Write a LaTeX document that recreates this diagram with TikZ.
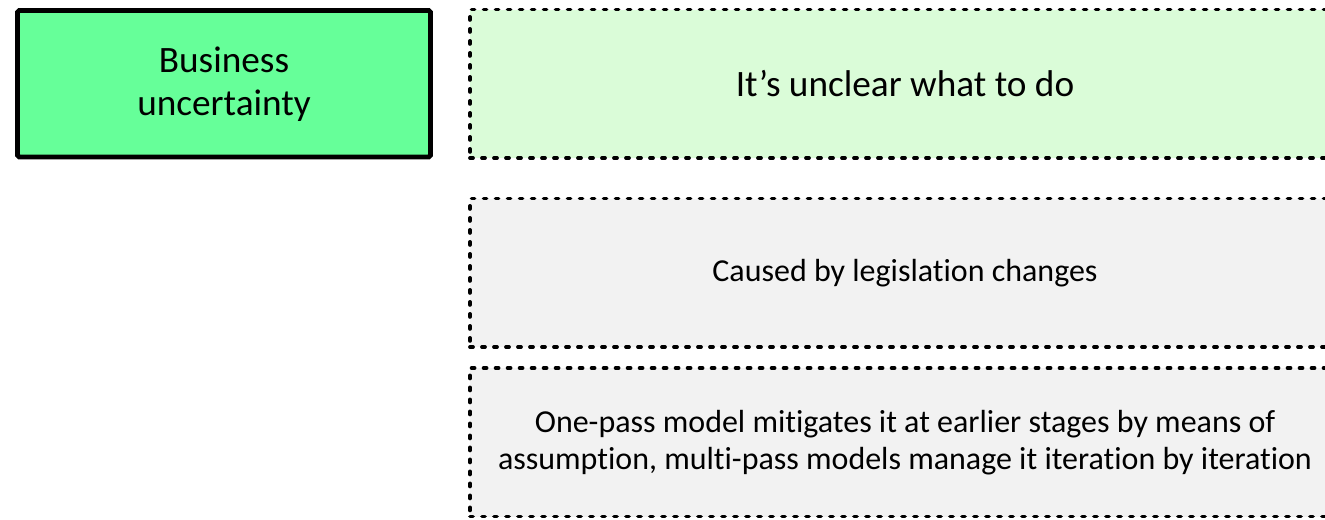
\documentclass[tikz,border=0pt]{standalone}
\usepackage{fontspec}
\setmainfont[Ligatures=NoCommon]{Carlito}
\usepackage{tikz}

\definecolor{bizgreen}{RGB}{102,255,153}
\definecolor{palegreen}{RGB}{218,252,216}
\definecolor{palegray}{RGB}{242,242,242}

\tikzset{
    topic/.style={draw=black,line width=2.8pt,fill=bizgreen,rounded corners=1pt,
        minimum width=8.26cm,minimum height=2.93cm,align=center,font=\fontsize{21.2}{24.4}\selectfont},
    facet/.style={draw=black,line width=0.075cm,line cap=round,dash pattern=on 0.06cm off 0.18cm,
        minimum width=17.4cm,minimum height=2.97cm,align=center,font=\fontsize{18.2}{21}\selectfont}
}

\begin{document}
\begin{tikzpicture}
        \useasboundingbox (0,0) rectangle (26.5,-10.38); % page frame

        \node[topic] (biz) at (4.48,-1.675) {Business\\uncertainty}; % main box

        \node[facet,fill=palegreen,font=\fontsize{21.2}{24.4}\selectfont] (unclear) at (18.1,-1.675) {It’s unclear what to do};
        \node[facet,fill=palegray] (cause) at (18.1,-5.455) {Caused by legislation changes};
        \node[facet,fill=palegray] (manage) at (18.1,-8.845) {One-pass model mitigates it at earlier stages by means of\\assumption, multi-pass models manage it iteration by iteration};
    \end{tikzpicture}
\end{document}
